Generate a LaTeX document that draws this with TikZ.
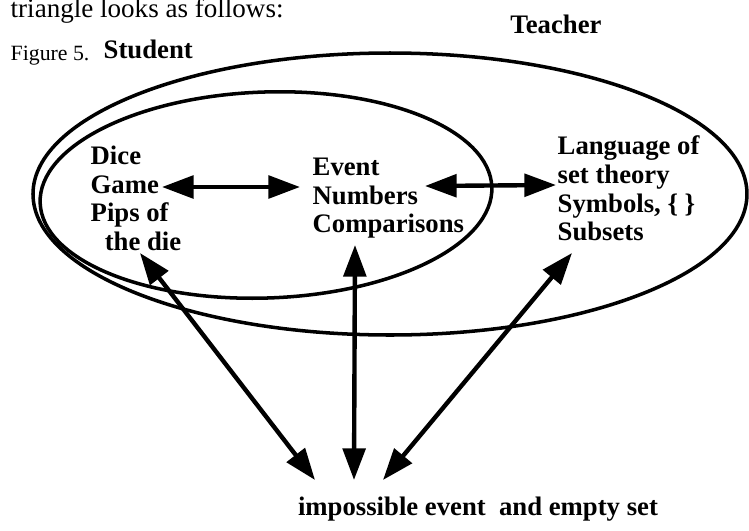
\documentclass[tikz,border=0pt]{standalone}
\usepackage{fontspec}
\setmainfont{Liberation Serif}
\usetikzlibrary{arrows.meta}

\begin{document}
\begin{tikzpicture}[
    lbl/.style={font=\fontsize{7.6}{8.2}\selectfont\bfseries, inner sep=0pt},
    ring/.style={line width=1pt},
    link/.style={line width=1.25pt,
      {Triangle[length=9pt,width=6.4pt]}-{Triangle[length=9pt,width=6.4pt]}}
  ]
  \useasboundingbox (0,0) rectangle (7.49,5.30);
  % the two sets
  \draw[ring] (3.90,3.36) ellipse [x radius=3.57, y radius=1.41];
  \draw[ring, rotate around={2:(2.66,3.35)}]
    (2.66,3.35) ellipse [x radius=2.26, y radius=1.03];

  \node[anchor=base west, inner sep=0pt, font=\fontsize{7.7}{9}\selectfont]
    (intro) at (0.10,5.13) {triangle looks as follows:};
  \node[lbl, anchor=base] (teacher) at (5.56,4.97) {Teacher};
  \node[anchor=base west, inner sep=0pt, font=\fontsize{6.2}{7}\selectfont]
    (fig) at (0.10,4.70) {Figure 5.};
  \node[lbl, anchor=base west] (student) at (1.03,4.72) {Student};

  \node[lbl, anchor=north west, align=left] (dice) at (0.90,3.85)
    {Dice\\Game\\Pips of\\\hspace{4pt}the die};
  \node[lbl, anchor=north west, align=left] (event) at (3.12,3.73)
    {Event\\Numbers\\Comparisons};
  \node[lbl, anchor=north west, align=left] (lang) at (5.57,3.95)
    {Language of\\set theory\\Symbols, \{ \}\\Subsets};
  \node[lbl, anchor=base] (empty) at (4.78,0.15)
    {impossible event\ \ and empty set};

  \coordinate (game-r) at (1.62,3.43);
  \coordinate (event-l) at (3.00,3.43);
  \coordinate (numbers-r) at (4.25,3.44);
  \coordinate (lang-l) at (5.56,3.45);
  \coordinate (die-b) at (1.40,2.77);
  \coordinate (comp-b) at (3.55,2.85);
  \coordinate (subsets-b) at (5.72,2.77);
  \coordinate (empty-l) at (3.15,0.50);
  \coordinate (empty-m) at (3.54,0.50);
  \coordinate (empty-r) at (3.83,0.50);

  \draw[link] (game-r) -- (event-l);
  \draw[link] (numbers-r) -- (lang-l);
  \draw[link] (die-b) -- (empty-l);
  \draw[link] (comp-b) -- (empty-m);
  \draw[link] (subsets-b) -- (empty-r);
\end{tikzpicture}
\end{document}
